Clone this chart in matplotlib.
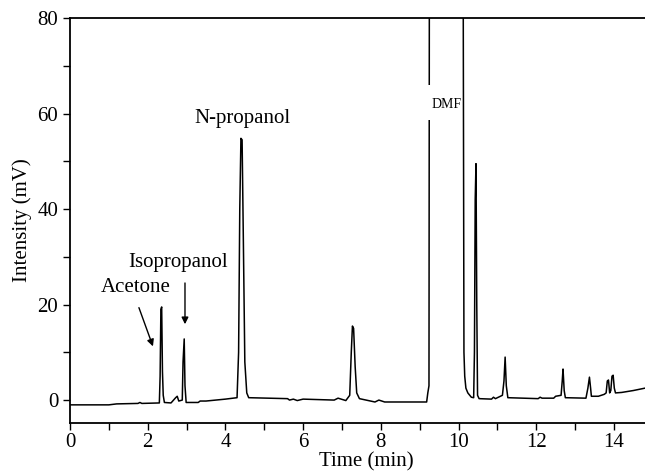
import numpy as np
import matplotlib.pyplot as plt
from matplotlib.patches import Rectangle
from matplotlib.ticker import MultipleLocator

plt.rcParams['font.family'] = ['Liberation Serif', 'DejaVu Serif']

# chromatogram trace (time in min, intensity in mV)
time_min = [0.0, 1.0, 1.2, 1.75, 1.8, 1.85, 2.30,
            2.32, 2.34, 2.36, 2.38, 2.40, 2.43, 2.6, 2.72, 2.76, 2.80,
            2.89, 2.91, 2.94, 2.96, 2.99, 3.3, 3.35, 3.5, 4.0, 4.3,
            4.34, 4.37, 4.40, 4.43, 4.46, 4.50, 4.55, 4.6, 5.6, 5.65, 5.75, 5.85,
            6.0, 6.8, 6.9, 7.1, 7.2, 7.24, 7.27, 7.30, 7.34, 7.38, 7.45,
            7.85, 7.95, 8.1, 9.18, 9.21, 9.24, 9.25, 10.12, 10.14, 10.16,
            10.19, 10.24, 10.33, 10.39, 10.41, 10.43, 10.45, 10.47, 10.49, 10.53,
            10.85, 10.9, 10.95, 11.13, 11.17, 11.20, 11.23, 11.27, 12.05, 12.1,
            12.15, 12.45, 12.5, 12.64, 12.67, 12.69, 12.72, 12.75, 13.28, 13.33,
            13.37, 13.40, 13.42, 13.6, 13.75, 13.80, 13.83, 13.86, 13.89, 13.92,
            13.95, 13.98, 14.01, 14.04, 14.2, 14.5, 14.8]
intensity = [-1.0, -1.0, -0.8, -0.7, -0.5, -0.7, -0.6,
             5.0, 19.0, 19.5, 6.0, 1.0, -0.5, -0.6, 0.5, 0.8, -0.2,
             0.0, 8.0, 12.8, 3.0, -0.5, -0.5, -0.2, -0.2, 0.2, 0.5,
             10.0, 40.0, 54.8, 54.5, 35.0, 8.0, 1.5, 0.5, 0.3, 0.0, 0.2, -0.1,
             0.2, 0.0, 0.4, -0.1, 1.0, 10.0, 15.5, 15.0, 7.0, 1.5, 0.3,
             -0.4, 0.0, -0.4, -0.4, 1.5, 3.0, 90.0, 90.0, 10.0, 5.0,
             2.5, 1.5, 0.6, 0.5, 10.0, 42.0, 49.5, 20.0, 1.0, 0.3,
             0.2, 0.6, 0.3, 1.0, 4.0, 9.0, 3.0, 0.5, 0.3, 0.6,
             0.4, 0.4, 0.8, 1.0, 4.0, 6.5, 2.0, 0.5, 0.4, 2.5,
             4.8, 2.5, 0.8, 0.8, 1.2, 1.5, 4.0, 4.2, 1.5, 2.0,
             5.0, 5.2, 2.5, 1.5, 1.6, 2.0, 2.5]

fig = plt.figure(figsize=(6.45, 4.72), dpi=100)
ax = fig.add_axes([0.1085, 0.1038, 0.8915, 0.8581])

ax.plot(time_min, intensity, color='black', lw=1.1)

ax.set_xlim(0, 14.8)
ax.set_ylim(-4.8, 80)
ax.xaxis.set_major_locator(MultipleLocator(2))
ax.xaxis.set_minor_locator(MultipleLocator(1))
ax.yaxis.set_major_locator(MultipleLocator(20))
ax.yaxis.set_minor_locator(MultipleLocator(10))
ax.tick_params(which='both', direction='out', labelsize=15, width=1, length=5)
ax.tick_params(axis='x', pad=2.5)
for s in ['left', 'bottom', 'top']:
    ax.spines[s].set_linewidth(1.3)
ax.spines['right'].set_visible(False)

ax.set_xlabel('Time (min)', fontsize=15)
ax.xaxis.set_label_coords(0.515, -0.072)
ax.set_ylabel('Intensity (mV)', fontsize=15, labelpad=4)

ax.text(4.43, 59, 'N-propanol', fontsize=15, ha='center', va='center')
ax.text(2.78, 28.9, 'Isopropanol', fontsize=15, ha='center', va='center')
ax.text(1.7, 23.5, 'Acetone', fontsize=15, ha='center', va='center')

# white gap in the DMF peak behind its label
ax.add_patch(Rectangle((9.1, 58.6), 0.9, 7.4, facecolor='white', edgecolor='none', zorder=3))
ax.text(9.69, 61.8, 'DMF', fontsize=10, ha='center', va='center', zorder=4)

ax.annotate('', xy=(2.16, 10.7), xytext=(1.75, 19.9),
            arrowprops=dict(arrowstyle='-|>', color='black', lw=1, mutation_scale=10))
ax.annotate('', xy=(2.96, 15.3), xytext=(2.96, 25.1),
            arrowprops=dict(arrowstyle='-|>', color='black', lw=1, mutation_scale=10))

fig.savefig('out.png', dpi=100)
